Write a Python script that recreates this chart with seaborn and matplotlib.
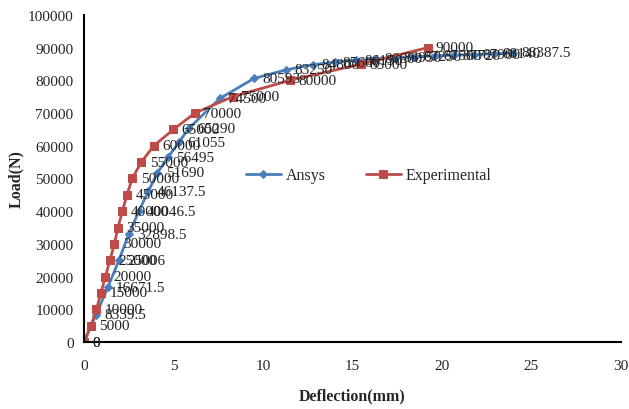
import seaborn as sns
import matplotlib.pyplot as plt
import pandas as pd

# Load-deflection data
ansys_defl = [0, 0.67, 1.33, 1.95, 2.5, 3.07, 3.6, 4.1, 4.7, 5.3, 5.85, 7.6, 9.5,
              11.3, 12.8, 14.0, 15.2, 16.3, 17.4, 18.5, 19.6, 20.7, 21.8, 22.9, 24.0]
ansys_load = [0, 8339.5, 16671.5, 25006, 32898.5, 40046.5, 46137.5, 51690, 56495, 61055, 65290, 74500, 80593,
              83250, 84800, 85600, 86150, 86600, 86950, 87250, 87500, 87720, 87900, 88140, 88387.5]

exp_defl = [0, 0.4, 0.7, 0.95, 1.2, 1.45, 1.7, 1.9, 2.15, 2.4, 2.7, 3.2, 3.9, 5.0, 6.2, 8.3, 11.5, 15.5, 19.2]
exp_load = [0, 5000, 10000, 15000, 20000, 25000, 30000, 35000, 40000, 45000, 50000, 55000,
            60000, 65000, 70000, 75000, 80000, 85000, 90000]

ansys_df = pd.DataFrame({'Deflection': ansys_defl, 'Load': ansys_load})
exp_df = pd.DataFrame({'Deflection': exp_defl, 'Load': exp_load})

sns.set_style('white')
plt.rcParams['font.family'] = ['Liberation Serif', 'DejaVu Serif']

fig = plt.figure(figsize=(6.29, 4.10), dpi=100)
ax = fig.add_axes([0.1335, 0.1634, 0.8535, 0.7976])

blue = '#4a7ebb'
red = '#be4b48'
sns.lineplot(data=ansys_df, x='Deflection', y='Load', ax=ax, color=blue, marker='D',
             markersize=4.5, markeredgecolor=blue, linewidth=2, sort=False, label='Ansys')
sns.lineplot(data=exp_df, x='Deflection', y='Load', ax=ax, color=red, marker='s',
             markersize=5.5, markeredgecolor=red, linewidth=2, sort=False, label='Experimental')


def fmt(v):
    return str(int(v)) if float(v).is_integer() else str(v)


for df in (ansys_df, exp_df):
    for x, y in zip(df['Deflection'], df['Load']):
        ax.annotate(fmt(y), (x, y), xytext=(6, 0), textcoords='offset points',
                    va='center', ha='left', fontsize=11, color='#222222')

ax.set_xlim(0, 30)
ax.set_ylim(0, 100000)
ax.set_xticks(range(0, 31, 5))
ax.set_yticks(range(0, 100001, 10000))
ax.tick_params(axis='both', labelsize=11, direction='out', length=4, width=1.2, color='black')
ax.tick_params(axis='x', pad=8)
for s in ['top', 'right']:
    ax.spines[s].set_visible(False)
for s in ['left', 'bottom']:
    ax.spines[s].set_color('black')
    ax.spines[s].set_linewidth(1.5)

ax.set_xlabel('Deflection(mm)', fontsize=11.5, fontweight='bold', labelpad=11)
ax.set_ylabel('Load(N)', fontsize=11.5, fontweight='bold', labelpad=3)

ax.legend(loc='center', bbox_to_anchor=(0.53, 0.51), ncol=2, frameon=False,
          fontsize=11.5, handlelength=2.2, columnspacing=2.5, handletextpad=0.3)

fig.savefig('out.png', dpi=100)
